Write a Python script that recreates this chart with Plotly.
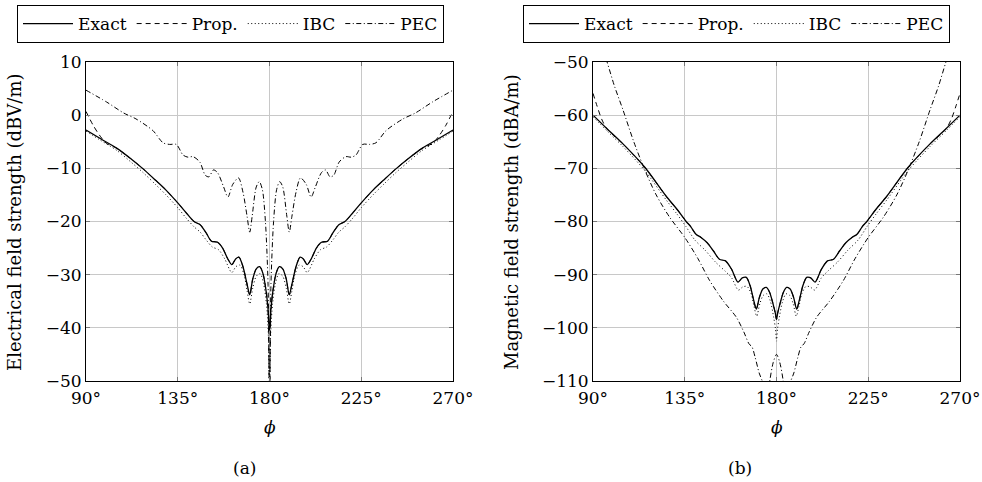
import plotly.graph_objects as go

# ---------------- data ----------------
# (a) electrical field strength, dBV/m
PHI_E_EXACT = [90, 97, 105, 112, 118, 124, 129, 135, 139, 143, 146, 149, 151.5, 154.5, 157, 159.5, 161.5, 163.5,
               165, 167, 169, 170.3, 171.8, 173.5, 175.2, 176.8, 178.3, 179.3, 180,
               180.7, 181.7, 183.2, 184.8, 186.5, 188.2, 189.7, 191, 193, 195, 196.5, 198.5, 200.5, 203, 205.5,
               208.5, 211, 214, 217, 221, 225, 231, 236, 242, 248, 255, 263, 270]
E_EXACT = [-2.8, -4.4, -6.2, -8.2, -10.1, -12.2, -14.0, -16.5, -18.3, -20.0, -20.6, -22.2, -23.7, -23.9, -25.0,
           -27.0, -28.1, -27.0, -26.7, -28.5, -31.8, -33.8, -30.8, -28.9, -28.5, -29.8, -33.0, -36.5, -40.5,
           -36.5, -33.0, -29.8, -28.5, -28.9, -30.8, -33.8, -31.8, -28.5, -26.7, -27.0, -28.1, -27.0, -25.0,
           -23.9, -23.7, -22.2, -20.6, -20.0, -18.3, -16.5, -14.0, -12.2, -10.1, -8.2, -6.2, -4.4, -2.8]

PHI_E_PROP = [90, 93.5, 96.5, 100, 105, 112, 118, 124, 129, 135, 139, 143, 146, 149, 151.5, 154.5, 157, 159.5,
              161.5, 163.5, 165, 167, 169, 170.3, 171.8, 173.5, 175.2, 176.8, 178.3, 179.3, 180,
              180.7, 181.7, 183.2, 184.8, 186.5, 188.2, 189.7, 191, 193, 195, 196.5, 198.5, 200.5, 203, 205.5,
              208.5, 211, 214, 217, 221, 225, 231, 236, 242, 248, 255, 260, 263.5, 266.5, 270]
E_PROP = [0.7, -1.9, -3.7, -5.3, -6.2, -8.2, -10.1, -12.2, -14.0, -16.5, -18.3, -20.0, -20.6, -22.2, -23.7,
          -23.9, -25.0, -27.0, -28.1, -27.0, -26.7, -28.5, -31.8, -33.8, -30.8, -28.9, -28.5, -29.8, -33.0,
          -37.0, -56.0, -37.0, -33.0, -29.8, -28.5, -28.9, -30.8, -33.8, -31.8, -28.5, -26.7, -27.0, -28.1,
          -27.0, -25.0, -23.9, -23.7, -22.2, -20.6, -20.0, -18.3, -16.5, -14.0, -12.2, -10.1, -8.2, -6.2,
          -5.3, -3.7, -1.9, 0.7]

PHI_E_IBC = [90, 97, 105, 112, 118, 124, 129, 135, 139, 143, 146, 149, 152, 155, 158, 161.5, 163.5, 165.5,
             167.5, 169, 170.3, 171.8, 173.5, 175.4, 177, 178.5, 179.4, 180,
             180.6, 181.5, 183, 184.6, 186.5, 188.2, 189.7, 191, 192.5, 194.5, 196.5, 198.5, 202, 205, 208,
             211, 214, 217, 221, 225, 231, 236, 242, 248, 255, 263, 270]
E_IBC = [-3.0, -4.7, -6.6, -8.8, -10.8, -13.0, -14.9, -17.4, -19.3, -21.0, -22.0, -23.5, -24.8, -25.3, -27.0,
         -29.6, -28.5, -28.2, -30.0, -33.0, -35.5, -32.5, -30.3, -29.8, -31.5, -35.5, -41.0, -50.0,
         -41.0, -35.5, -31.5, -29.8, -30.3, -32.5, -35.5, -33.0, -30.0, -28.2, -28.5, -29.6, -27.0, -25.3,
         -24.8, -23.5, -22.0, -21.0, -19.3, -17.4, -14.9, -13.0, -10.8, -8.8, -6.6, -4.7, -3.0]

PHI_E_PEC = [90, 100, 108.5, 114.5, 122.8, 127.8, 131, 134.3, 137.6, 140, 142.5, 145.8, 148.5, 150.3, 152.5,
             154.5, 157.5, 159.6, 162, 164.8, 167, 169, 170.3, 171.5, 173.5, 175, 176.5, 178, 179.3, 180,
             180.7, 182, 183.5, 185, 186.5, 188.5, 189.7, 191, 193, 195.2, 198, 200.4, 202.5, 205.5, 207.5,
             209.7, 211.5, 214.2, 217.5, 220, 222.4, 225.7, 229, 232.2, 237.2, 245.5, 251.5, 260, 270]
E_PEC = [4.7, 2.5, 0.4, -0.7, -2.9, -5.2, -5.5, -5.5, -7.5, -7.9, -7.8, -8.8, -11.3, -11.6, -10.3, -10.8,
         -13.5, -15.4, -13.0, -11.8, -14.5, -19.0, -22.0, -19.0, -13.5, -12.5, -14.0, -20.0, -32.0, -55.0,
         -32.0, -20.0, -14.0, -12.5, -13.5, -19.0, -22.0, -19.0, -14.5, -11.8, -13.0, -15.4, -13.5, -10.8,
         -10.3, -11.6, -11.3, -8.8, -7.8, -7.9, -7.5, -5.5, -5.5, -5.2, -2.9, -0.7, 0.4, 2.5, 4.7]

# (b) magnetic field strength, dBA/m
PHI_H_EXACT = [90, 97, 104.7, 115.4, 126, 131, 135.5, 138, 140.5, 143, 146, 149, 152, 155, 158, 161.1, 163.2,
               165.2, 167, 168.8, 170.1, 171.6, 173.3, 175, 176.6, 178.3, 179.4, 180,
               180.6, 181.7, 183.4, 185, 186.7, 188.4, 189.9, 191.2, 193, 194.8, 196.8, 198.9, 202, 205, 208,
               211, 214, 217, 219.5, 222, 224.5, 229, 234, 244.6, 255.3, 263, 270]
H_EXACT = [-60.0, -62.6, -65.4, -69.8, -75.3, -77.6, -79.9, -81.0, -82.4, -83.0, -84.0, -85.5, -87.1, -87.4,
           -89.0, -91.4, -90.6, -90.5, -92.0, -94.8, -96.5, -94.3, -92.7, -92.4, -93.3, -95.5, -97.2, -98.4,
           -97.2, -95.5, -93.3, -92.4, -92.7, -94.3, -96.5, -94.8, -92.0, -90.5, -90.6, -91.4, -89.0, -87.4,
           -87.1, -85.5, -84.0, -83.0, -82.4, -81.0, -79.9, -77.6, -75.3, -69.8, -65.4, -62.6, -60.0]

PHI_H_PROP = [90, 92, 94.2, 96.5, 100, 104.7, 115.4, 126, 131, 135.5, 138, 140.5, 143, 146, 149, 152, 155, 158,
              161.1, 163.2, 165.2, 167, 168.8, 170.1, 171.6, 173.3, 175, 176.6, 178.3, 179.4, 180,
              180.6, 181.7, 183.4, 185, 186.7, 188.4, 189.9, 191.2, 193, 194.8, 196.8, 198.9, 202, 205, 208,
              211, 214, 217, 219.5, 222, 224.5, 229, 234, 244.6, 255.3, 260, 263.5, 265.8, 268, 270]
H_PROP = [-55.9, -58.3, -60.7, -62.4, -63.8, -65.4, -69.8, -75.3, -77.6, -79.9, -81.0, -82.4, -83.0, -84.0,
          -85.5, -87.1, -87.4, -89.0, -91.4, -90.6, -90.5, -92.0, -94.8, -96.5, -94.3, -92.7, -92.4, -93.3,
          -95.5, -97.2, -98.4, -97.2, -95.5, -93.3, -92.4, -92.7, -94.3, -96.5, -94.8, -92.0, -90.5, -90.6,
          -91.4, -89.0, -87.4, -87.1, -85.5, -84.0, -83.0, -82.4, -81.0, -79.9, -77.6, -75.3, -69.8, -65.4,
          -63.8, -62.4, -60.7, -58.3, -55.9]

PHI_H_IBC = [90, 97, 104.7, 115.4, 126, 131, 135.5, 140, 145, 150, 155, 158, 161.3, 163.5, 165.5, 167.5, 169,
             170.3, 171.8, 173.5, 175.3, 177, 178.6, 179.5, 180,
             180.5, 181.4, 183, 184.7, 186.5, 188.2, 189.7, 191, 192.5, 194.5, 196.5, 198.7, 202, 205, 210,
             215, 220, 224.5, 229, 234, 244.6, 255.3, 263, 270]
H_IBC = [-60.3, -63.0, -65.9, -70.4, -76.0, -78.5, -80.9, -83.5, -85.4, -87.6, -89.4, -90.6, -92.9, -92.3,
         -92.2, -93.5, -96.0, -97.8, -95.5, -93.9, -93.6, -95.0, -98.0, -100.2, -102.5,
         -100.2, -98.0, -95.0, -93.6, -93.9, -95.5, -97.8, -96.0, -93.5, -92.2, -92.3, -92.9, -90.6, -89.4,
         -87.6, -85.4, -83.5, -80.9, -78.5, -76.0, -70.4, -65.9, -63.0, -60.3]

PHI_H_PEC = [90, 93, 96.9, 100.5, 104.7, 110, 115.4, 121, 127.6, 135, 141.5, 147.2, 154, 160.3, 164, 166.5,
             168, 169.5, 171.5, 173.4, 175, 176.7, 178.4, 180,
             181.6, 183.3, 185, 186.6, 188.5, 190.5, 192, 193.5, 196, 199.7, 206, 212.8, 218.5, 225, 232.4,
             239, 244.6, 250, 255.3, 259.5, 263.1, 267, 270]
H_PEC = [-41.5, -45.5, -50.0, -54.5, -59.0, -65.0, -70.3, -75.0, -79.2, -83.0, -87.0, -91.1, -95.0, -98.0,
         -100.8, -103.0, -103.6, -105.5, -108.5, -110.5, -116.0, -110.0, -106.5, -105.0,
         -106.5, -110.0, -116.0, -110.5, -108.5, -105.5, -103.6, -103.0, -100.8, -98.0, -95.0, -91.1, -87.0,
         -83.0, -79.2, -75.0, -70.3, -65.0, -59.0, -54.5, -50.0, -45.5, -41.5]

X_TICKS = [90, 135, 180, 225, 270]
X_TICK_TEXT = ["90°", "135°", "180°", "225°", "270°"]
E_TICKS = [-50, -40, -30, -20, -10, 0, 10]
E_TICK_TEXT = ["−50", "−40", "−30", "−20", "−10", "0", "10"]
H_TICKS = [-110, -100, -90, -80, -70, -60, -50]
H_TICK_TEXT = ["−110", "−100", "−90", "−80", "−70", "−60", "−50"]

SERIES_NAMES = ["Exact", "Prop.", "IBC", "PEC"]

# ---------------- figure ----------------
W, H = 982, 482
FONT = "DejaVu Serif"
FS = 17


def px_x(p):
    return p / W


def px_y(p):
    return 1 - p / H


STYLES = {
    "Exact": dict(dash="solid", width=1.3),
    "Prop.": dict(dash="5px,4px", width=1.0),
    "IBC": dict(dash="1px,2.5px", width=1.0),
    "PEC": dict(dash="5px,2.5px,1px,2.5px", width=1.0),
}

fig = go.Figure()

left_sets = [(PHI_E_EXACT, E_EXACT), (PHI_E_PROP, E_PROP), (PHI_E_IBC, E_IBC), (PHI_E_PEC, E_PEC)]
right_sets = [(PHI_H_EXACT, H_EXACT), (PHI_H_PROP, H_PROP), (PHI_H_IBC, H_IBC), (PHI_H_PEC, H_PEC)]

for (xs, ys), name in list(zip(left_sets, SERIES_NAMES))[::-1]:
    st = STYLES[name]
    fig.add_trace(go.Scatter(x=xs, y=ys, name=name, mode="lines", xaxis="x", yaxis="y", legend="legend",
                             line=dict(color="black", width=st["width"], dash=st["dash"], shape="spline",
                                       smoothing=0.8),
                             legendrank=SERIES_NAMES.index(name) + 1))
for (xs, ys), name in list(zip(right_sets, SERIES_NAMES))[::-1]:
    st = STYLES[name]
    fig.add_trace(go.Scatter(x=xs, y=ys, name=name, mode="lines", xaxis="x2", yaxis="y2", legend="legend2",
                             line=dict(color="black", width=st["width"], dash=st["dash"], shape="spline",
                                       smoothing=0.8),
                             legendrank=SERIES_NAMES.index(name) + 1))

axis_common = dict(showgrid=True, gridcolor="#c8c8c8", gridwidth=1, zeroline=False, showline=True,
                   linecolor="black", linewidth=1, mirror="ticks", ticks="inside", ticklen=4,
                   tickcolor="#777777", tickwidth=1, automargin=False,
                   tickfont=dict(family=FONT, size=FS, color="black"))

ydom = [px_y(381), px_y(62)]
leg_common = dict(orientation="h", xanchor="left", yanchor="top",
                  bordercolor="black", borderwidth=1, bgcolor="white", traceorder="normal",
                  font=dict(family=FONT, size=FS, color="black"), itemwidth=50)
fig.update_layout(
    template="none",
    width=W, height=H,
    margin=dict(l=0, r=0, t=0, b=0, autoexpand=False),
    paper_bgcolor="white", plot_bgcolor="white",
    font=dict(family=FONT, size=FS, color="black"),
    xaxis=dict(domain=[px_x(86), px_x(453)], range=[90, 270], tickvals=X_TICKS, ticktext=X_TICK_TEXT,
               anchor="y", ticklabelstandoff=2, **axis_common),
    yaxis=dict(domain=ydom, range=[-50, 10], tickvals=E_TICKS, ticktext=E_TICK_TEXT, anchor="x",
               **axis_common),
    xaxis2=dict(domain=[px_x(593), px_x(960)], range=[90, 270], tickvals=X_TICKS, ticktext=X_TICK_TEXT,
                anchor="y2", ticklabelstandoff=2, **axis_common),
    yaxis2=dict(domain=ydom, range=[-110, -50], tickvals=H_TICKS, ticktext=H_TICK_TEXT, anchor="x2",
                **axis_common),
    legend=dict(x=px_x(17), y=px_y(5), **leg_common),
    legend2=dict(x=px_x(523), y=px_y(5), **leg_common),
    showlegend=True,
)

annos = [
    dict(text="Electrical field strength (dBV/m)", x=px_x(15), y=px_y(222), textangle=-90, size=18),
    dict(text="Magnetic field strength (dBA/m)", x=px_x(512), y=px_y(222), textangle=-90, size=18),
    dict(text="<i>ϕ</i>", x=px_x(269.5), y=px_y(427), size=FS),
    dict(text="<i>ϕ</i>", x=px_x(776.5), y=px_y(427), size=FS),
    dict(text="(a)", x=px_x(244), y=px_y(468), size=FS),
    dict(text="(b)", x=px_x(740), y=px_y(468), size=FS),
]
for a in annos:
    sz = a.pop("size")
    fig.add_annotation(xref="paper", yref="paper", xanchor="center", yanchor="middle", showarrow=False,
                       font=dict(family=FONT, size=sz, color="black"), **a)

fig.write_html("out.html")
